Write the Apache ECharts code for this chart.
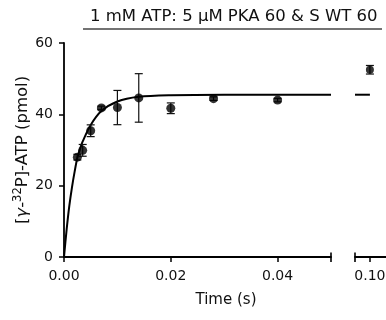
<!DOCTYPE html>
<html><head><meta charset="utf-8">
<script src="https://cdn.jsdelivr.net/npm/echarts@6/dist/echarts.min.js"></script>
<style>html,body{margin:0;padding:0;background:#fff}#c{width:386px;height:320px}</style>
</head><body><div id="c"></div>
<script>
// ---- data ----
const titleText = '1 mM ATP: 5 µM PKA 60 & S WT 60';
const xTicksLeft = [0, 0.02, 0.04];
const xTicksRight = [0.10];
const yTicks = [0, 20, 40, 60];
const times = [0.0025, 0.0035, 0.005, 0.007, 0.01, 0.014, 0.02, 0.028, 0.04];
const means = [28.0, 29.9, 35.4, 41.8, 41.9, 44.6, 41.7, 44.4, 44.0];
const sems  = [0.8, 1.65, 1.65, 0.5, 4.8, 6.8, 1.5, 0.5, 0.5];
const lateTimes = [0.10];
const lateMeans = [52.5];
const lateSems  = [1.2];
const fitTimes  = [0, 0.0005, 0.001, 0.0015, 0.002, 0.0025, 0.003, 0.0035, 0.005, 0.007, 0.01, 0.014, 0.02, 0.03, 0.05];
const fitValues = [0, 7.8, 14.4, 19.6, 24.0, 27.8, 30.3, 32.4, 37.0, 40.9, 43.6, 44.9, 45.35, 45.5, 45.5];
const lateFitTimes  = [0.0972, 0.10];
const lateFitValues = [45.5, 45.5];

// ---- chart ----
const FONT = 'DejaVu Sans';
const INK = '#111';
const leftRange = [0, 0.05];
const rightRange = [0.0972, 0.1034];
const segmentEnds = [[leftRange[1], 0]];
const segmentStarts = [[rightRange[0], 0]];

const chart = echarts.init(document.getElementById('c'), null, {renderer: 'canvas'});

function errRender(params, api) {
  const x = api.value(0), lo = api.value(1), hi = api.value(2);
  const pLo = api.coord([x, lo]), pHi = api.coord([x, hi]);
  const hw = 4;
  const style = {stroke: '#111', lineWidth: 1.2};
  return {type: 'group', children: [
    {type: 'line', shape: {x1: pLo[0], y1: pLo[1], x2: pHi[0], y2: pHi[1]}, style},
    {type: 'line', shape: {x1: pLo[0] - hw, y1: pLo[1], x2: pLo[0] + hw, y2: pLo[1]}, style},
    {type: 'line', shape: {x1: pHi[0] - hw, y1: pHi[1], x2: pHi[0] + hw, y2: pHi[1]}, style}
  ]};
}
// vertical end cap of a broken-axis segment, centred on the axis line
function capRender(params, api) {
  const p = api.coord([api.value(0), api.value(1)]);
  return {type: 'line', shape: {x1: p[0], y1: p[1] - 4.5, x2: p[0], y2: p[1] + 5},
          style: {stroke: '#000', lineWidth: 1.6}};
}

const axisLine = {show: true, lineStyle: {color: '#000', width: 1.8}};
const tickStyle = {color: '#000', width: 1.5};
const labelStyle = {fontFamily: FONT, fontSize: 14, color: INK};

const option = {
  animation: false,
  backgroundColor: '#fff',
  title: {
    text: titleText, left: 90, top: 8, padding: 0,
    textStyle: {fontFamily: FONT, fontSize: 16.5, fontWeight: 'normal', color: INK}
  },
  graphic: [{type: 'line', shape: {x1: 83, y1: 29, x2: 382, y2: 29}, style: {stroke: '#444', lineWidth: 1.5}}],
  grid: [
    {left: 64, top: 43, width: 267, height: 214, containLabel: false, outerBoundsMode: 'none'},
    {left: 355, top: 43, width: 33, height: 214, containLabel: false, outerBoundsMode: 'none'},
    {left: 64, top: 43, width: 324, height: 214, containLabel: false, outerBoundsMode: 'none'}
  ],
  xAxis: [
    {gridIndex: 0, type: 'value', position: 'bottom', min: leftRange[0], max: leftRange[1],
     axisLine, splitLine: {show: false},
     axisTick: {show: true, length: 5, lineStyle: tickStyle, customValues: xTicksLeft},
     axisLabel: Object.assign({customValues: xTicksLeft, margin: 12, formatter: v => v.toFixed(2)}, labelStyle)},
    {gridIndex: 1, type: 'value', position: 'bottom', min: rightRange[0], max: rightRange[1],
     axisLine, splitLine: {show: false},
     axisTick: {show: true, length: 5, lineStyle: tickStyle, customValues: xTicksRight},
     axisLabel: Object.assign({customValues: xTicksRight, margin: 12, formatter: v => v.toFixed(2)}, labelStyle)},
    // whole-axis title
    {gridIndex: 2, type: 'value', position: 'bottom', min: 0, max: 1, show: true,
     axisLine: {show: false}, axisTick: {show: false}, axisLabel: {show: false}, splitLine: {show: false},
     name: 'Time (s)', nameLocation: 'middle', nameGap: 36,
     nameTextStyle: {fontFamily: FONT, fontSize: 15, color: INK}}
  ],
  yAxis: [
    {gridIndex: 0, type: 'value', min: yTicks[0], max: yTicks[yTicks.length - 1], interval: 20,
     axisLine, splitLine: {show: false},
     axisTick: {show: true, length: 5, lineStyle: tickStyle},
     axisLabel: Object.assign({margin: 11}, labelStyle),
     name: '[{i|γ}-{s|32}P]-ATP (pmol)', nameLocation: 'middle', nameGap: 30, nameMoveOverlap: false,
     nameTextStyle: {fontFamily: FONT, fontSize: 16.5, color: INK,
       rich: {
         i: {fontFamily: FONT, fontSize: 16.5, fontStyle: 'italic', color: INK},
         s: {fontFamily: FONT, fontSize: 11.5, color: INK, verticalAlign: 'top', lineHeight: 22}
       }}},
    {gridIndex: 1, type: 'value', min: yTicks[0], max: yTicks[yTicks.length - 1], show: false},
    {gridIndex: 2, type: 'value', min: 0, max: 1, show: false}
  ],
  series: [
    {type: 'line', xAxisIndex: 0, yAxisIndex: 0, data: fitTimes.map((t, i) => [t, fitValues[i]]),
     showSymbol: false, smooth: 0.3, lineStyle: {color: '#000', width: 2}, z: 2},
    {type: 'custom', xAxisIndex: 0, yAxisIndex: 0, renderItem: errRender,
     data: times.map((t, i) => [t, means[i] - sems[i], means[i] + sems[i]]), encode: {x: 0, y: [1, 2]}, z: 3},
    {type: 'scatter', xAxisIndex: 0, yAxisIndex: 0, data: times.map((t, i) => [t, means[i]]),
     symbolSize: 9, itemStyle: {color: '#000'}, z: 4},
    {type: 'custom', xAxisIndex: 0, yAxisIndex: 0, renderItem: capRender, clip: false,
     data: segmentEnds, encode: {x: 0, y: 1}, z: 5},
    {type: 'line', xAxisIndex: 1, yAxisIndex: 1, data: lateFitTimes.map((t, i) => [t, lateFitValues[i]]),
     showSymbol: false, lineStyle: {color: '#000', width: 2}, z: 2},
    {type: 'custom', xAxisIndex: 1, yAxisIndex: 1, renderItem: errRender,
     data: lateTimes.map((t, i) => [t, lateMeans[i] - lateSems[i], lateMeans[i] + lateSems[i]]), encode: {x: 0, y: [1, 2]}, z: 3},
    {type: 'scatter', xAxisIndex: 1, yAxisIndex: 1, data: lateTimes.map((t, i) => [t, lateMeans[i]]),
     symbolSize: 8, itemStyle: {color: '#000'}, z: 4},
    {type: 'custom', xAxisIndex: 1, yAxisIndex: 1, renderItem: capRender, clip: false,
     data: segmentStarts, encode: {x: 0, y: 1}, z: 5}
  ]
};
chart.setOption(option);
</script>
</body></html>
